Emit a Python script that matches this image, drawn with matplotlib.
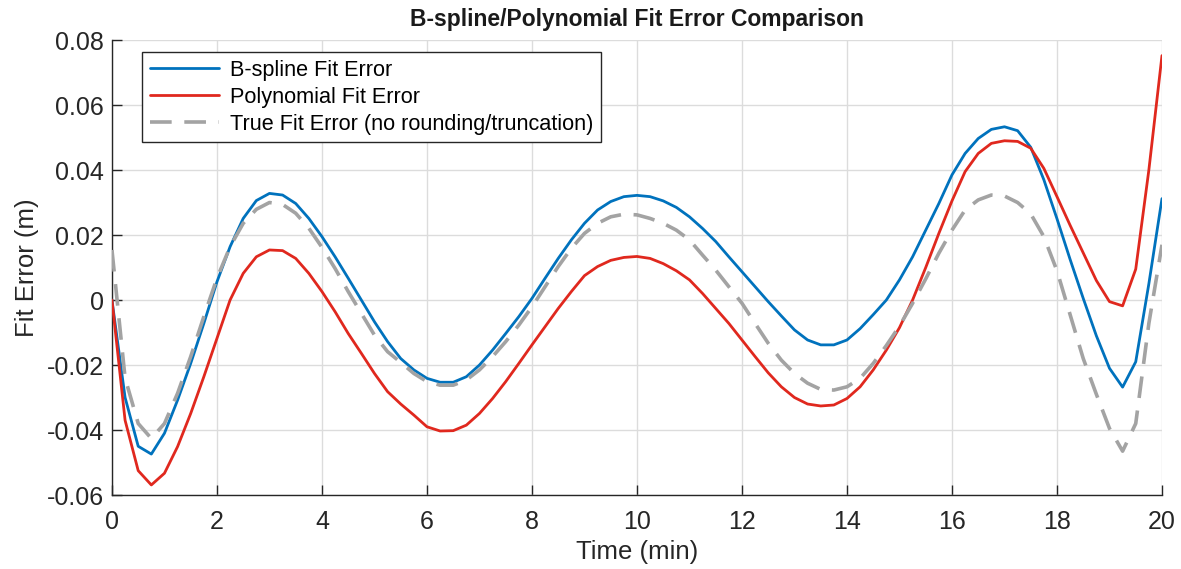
import matplotlib
matplotlib.use("Agg")
import matplotlib.pyplot as plt
import numpy as np

# time axis, minutes (0.25 min steps)
time_min = np.arange(0, 20.01, 0.25)

bspline_err = [
    0.0000, -0.0300, -0.0450, -0.0474, -0.0410, -0.0308, -0.0195, -0.0072,
    0.0056, 0.0164, 0.0251, 0.0306, 0.0328, 0.0323, 0.0297, 0.0251,
    0.0195, 0.0133, 0.0067, 0.0000, -0.0067, -0.0128, -0.0180, -0.0215,
    -0.0241, -0.0253, -0.0253, -0.0236, -0.0200, -0.0154, -0.0103, -0.0051,
    0.0005, 0.0067, 0.0128, 0.0185, 0.0236, 0.0277, 0.0303, 0.0318,
    0.0322, 0.0318, 0.0305, 0.0285, 0.0256, 0.0220, 0.0180, 0.0133,
    0.0087, 0.0041, -0.0005, -0.0049, -0.0092, -0.0123, -0.0138, -0.0138,
    -0.0123, -0.0088, -0.0045, 0.0000, 0.0062, 0.0133, 0.0215, 0.0297,
    0.0385, 0.0451, 0.0497, 0.0525, 0.0533, 0.0521, 0.0470, 0.0370,
    0.0250, 0.0125, 0.0005, -0.0110, -0.0210, -0.0268, -0.0190, 0.0050,
    0.0312,
]

poly_err = [
    0.0000, -0.0370, -0.0525, -0.0569, -0.0533, -0.0451, -0.0349, -0.0236,
    -0.0118, 0.0000, 0.0082, 0.0133, 0.0154, 0.0152, 0.0128, 0.0082,
    0.0026, -0.0036, -0.0103, -0.0164, -0.0226, -0.0282, -0.0320, -0.0354,
    -0.0390, -0.0403, -0.0402, -0.0385, -0.0349, -0.0303, -0.0251, -0.0195,
    -0.0138, -0.0082, -0.0026, 0.0026, 0.0075, 0.0103, 0.0122, 0.0131,
    0.0134, 0.0128, 0.0112, 0.0090, 0.0062, 0.0020, -0.0026, -0.0072,
    -0.0123, -0.0174, -0.0224, -0.0267, -0.0300, -0.0320, -0.0326, -0.0323,
    -0.0303, -0.0267, -0.0215, -0.0154, -0.0085, 0.0000, 0.0100, 0.0205,
    0.0305, 0.0395, 0.0451, 0.0482, 0.0490, 0.0488, 0.0467, 0.0405,
    0.0318, 0.0230, 0.0145, 0.0060, -0.0005, -0.0018, 0.0095, 0.0400,
    0.0752,
]

true_err = [
    0.0154, -0.0240, -0.0380, -0.0426, -0.0380, -0.0287, -0.0174, -0.0051,
    0.0067, 0.0164, 0.0236, 0.0279, 0.0300, 0.0294, 0.0267, 0.0221,
    0.0162, 0.0097, 0.0026, -0.0041, -0.0108, -0.0159, -0.0192, -0.0226,
    -0.0251, -0.0262, -0.0262, -0.0246, -0.0215, -0.0174, -0.0128, -0.0077,
    -0.0021, 0.0041, 0.0103, 0.0159, 0.0205, 0.0236, 0.0256, 0.0264,
    0.0262, 0.0251, 0.0236, 0.0215, 0.0185, 0.0138, 0.0092, 0.0041,
    -0.0010, -0.0072, -0.0133, -0.0185, -0.0226, -0.0256, -0.0275, -0.0277,
    -0.0267, -0.0241, -0.0195, -0.0140, -0.0080, -0.0010, 0.0065, 0.0144,
    0.0215, 0.0277, 0.0308, 0.0323, 0.0320, 0.0300, 0.0265, 0.0195,
    0.0090, -0.0045, -0.0180, -0.0290, -0.0395, -0.0465, -0.0380, -0.0072,
    0.0170,
]

x_ticks = list(range(0, 21, 2))
y_ticks = [-0.06, -0.04, -0.02, 0, 0.02, 0.04, 0.06, 0.08]
y_tick_labels = ["-0.06", "-0.04", "-0.02", "0", "0.02", "0.04", "0.06", "0.08"]

plt.rcParams["font.family"] = ["Liberation Sans", "DejaVu Sans"]

fig = plt.figure(figsize=(11.81, 5.69), dpi=100)
ax = fig.add_axes([0.0948, 0.130, 0.8891, 0.7997])

line_kw = dict(solid_joinstyle="round", solid_capstyle="round")
ax.plot(time_min, bspline_err, color="#0072bd", linewidth=2.0,
        label="B-spline Fit Error", zorder=3, **line_kw)
ax.plot(time_min, poly_err, color="#e0281e", linewidth=2.0,
        label="Polynomial Fit Error", zorder=3, **line_kw)
ax.plot(time_min, true_err, color="#a3a3a3", linewidth=2.6,
        linestyle=(0, (6, 3.5)), dash_joinstyle="round",
        label="True Fit Error (no rounding/truncation)", zorder=4)

ax.set_xlim(0, 20)
ax.set_ylim(-0.06, 0.08)
ax.set_xticks(x_ticks)
ax.set_yticks(y_ticks)
ax.set_yticklabels(y_tick_labels)
ax.tick_params(direction="in", length=7, width=1, labelsize=18,
               colors="#262626")
ax.tick_params(axis="x", pad=11)
ax.tick_params(axis="y", pad=6)
ax.grid(True, color="#dcdcdc", linewidth=1)
ax.set_axisbelow(True)
for side in ("top", "right"):
    ax.spines[side].set_visible(False)
for side in ("left", "bottom"):
    ax.spines[side].set_color("#262626")
    ax.spines[side].set_linewidth(1)

ax.set_xlabel("Time (min)", fontsize=18.5, color="#262626", labelpad=4)
ax.set_ylabel("Fit Error (m)", fontsize=18.5, color="#262626", labelpad=5)
ax.set_title("B-spline/Polynomial Fit Error Comparison", fontsize=16.5,
             fontweight="bold", color="#1a1a1a", pad=10)

leg = ax.legend(loc="upper left", bbox_to_anchor=(0.0286, 0.9736),
                borderaxespad=0, fontsize=15.6, frameon=True, fancybox=False,
                handlelength=3.2, borderpad=0.35, labelspacing=0.28,
                handletextpad=0.5)
leg.get_frame().set_edgecolor("#262626")
leg.get_frame().set_linewidth(1)
leg.get_frame().set_alpha(1)

fig.savefig("out.png", dpi=100)
